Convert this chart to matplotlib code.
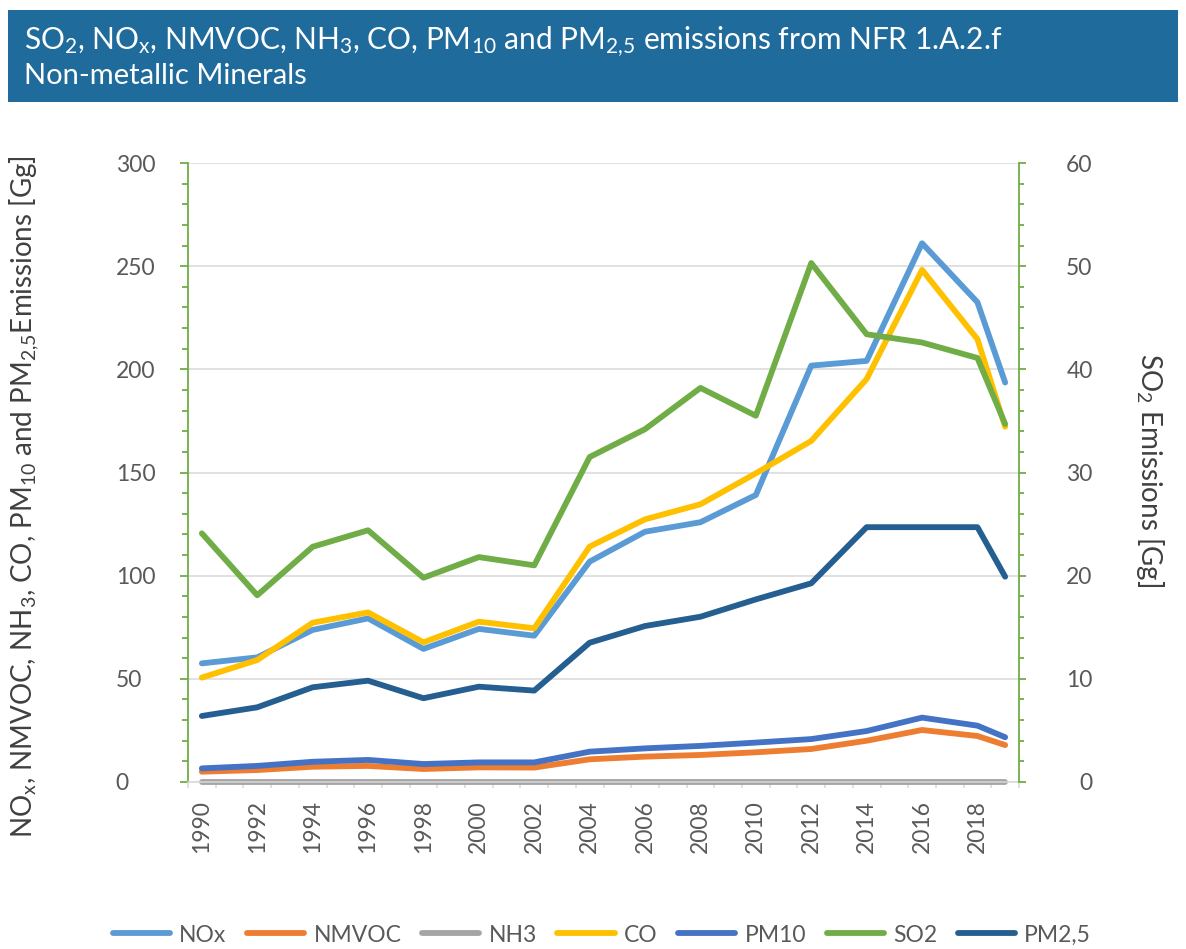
import matplotlib
matplotlib.use("Agg")
import matplotlib.pyplot as plt
from matplotlib.patches import Rectangle
from matplotlib.ticker import MultipleLocator, FixedLocator

FONT = "Lato"
plt.rcParams['font.family'] = [FONT, 'DejaVu Sans']
plt.rcParams['mathtext.fontset'] = 'custom'
plt.rcParams['mathtext.rm'] = FONT
plt.rcParams['mathtext.it'] = FONT + ':italic'
plt.rcParams['mathtext.bf'] = FONT + ':bold'

# ---------------- data ----------------
years = [1990, 1992, 1994, 1996, 1998, 2000, 2002, 2004, 2006, 2008, 2010, 2012, 2014, 2016, 2018, 2019]
nox = [57.5, 60.4, 73.7, 79.3, 64.5, 74.2, 70.9, 106.8, 121.3, 125.9, 139.1, 201.8, 204.1, 261.1, 232.5, 193.6]
nmvoc = [5.0, 5.8, 7.4, 7.8, 6.3, 7.1, 7.0, 11.0, 12.3, 13.1, 14.4, 16.0, 20.0, 25.2, 22.3, 17.9]
nh3 = [0.1, 0.1, 0.1, 0.1, 0.1, 0.1, 0.1, 0.1, 0.1, 0.1, 0.1, 0.1, 0.1, 0.1, 0.1, 0.1]
co = [50.6, 59.1, 77.2, 82.2, 67.7, 77.7, 74.5, 114.1, 127.3, 134.6, 149.6, 165.3, 195.3, 248.2, 214.6, 172.2]
pm10 = [6.6, 7.8, 9.8, 10.7, 8.7, 9.5, 9.5, 14.7, 16.3, 17.5, 19.1, 20.8, 24.7, 31.2, 27.3, 21.7]
so2 = [24.1, 18.1, 22.8, 24.4, 19.8, 21.8, 21.0, 31.5, 34.2, 38.2, 35.5, 50.3, 43.4, 42.6, 41.1, 34.7]
pm25 = [32.0, 36.2, 45.9, 49.1, 40.6, 46.2, 44.3, 67.5, 75.6, 80.1, 88.5, 96.3, 123.5, 123.5, 123.5, 99.5]

first_year = 1990
last_year = 2019
label_years = list(range(1990, 2019, 2))

series_labels = ['NOx', 'NMVOC', 'NH3', 'CO', 'PM10', 'SO2', 'PM2,5']
colors = {'NOx': '#5B9BD5', 'NMVOC': '#ED7D31', 'NH3': '#A5A5A5', 'CO': '#FFC000',
          'PM10': '#4472C4', 'SO2': '#70AD47', 'PM2,5': '#255E91'}

title_line1 = (r'SO$_\mathrm{2}$, NO$_\mathrm{x}$, NMVOC, NH$_\mathrm{3}$, CO, PM$_\mathrm{10}$ '
               r'and PM$_\mathrm{2{,}5}$ emissions from NFR 1.A.2.f')
title_line2 = 'Non-metallic Minerals'
ylabel_left = (r'NO$_\mathrm{x}$, NMVOC, NH$_\mathrm{3}$, CO, PM$_\mathrm{10}$ and '
               r'PM$_\mathrm{2{,}5}$Emissions [Gg]')
ylabel_right = r'SO$_\mathrm{2}$ Emissions [Gg]'

# ---------------- figure ----------------
W, H = 1186, 949
fig = plt.figure(figsize=(W / 100, H / 100), dpi=100)

TXT = '#595959'
GREEN = '#70AD47'
GRID = '#D9D9D9'

# title banner
fig.patches.append(Rectangle((8 / W, 1 - 102 / H), (1178 - 8) / W, (102 - 10) / H,
                             transform=fig.transFigure, facecolor='#1F6B9C', edgecolor='none'))
fig.text(24 / W, 1 - 49 / H, title_line1, color='white', fontsize=21.5, va='baseline', ha='left')
fig.text(24 / W, 1 - 84 / H, title_line2, color='white', fontsize=21, va='baseline', ha='left')

L, R, T, B = 188, 1019, 163, 782
ax = fig.add_axes([L / W, 1 - B / H, (R - L) / W, (B - T) / H])
ax2 = ax.twinx()

xpos = [y - first_year for y in years]
lw = 4.2
kw = dict(lw=lw, solid_capstyle='round', solid_joinstyle='round', clip_on=False)
h_nox, = ax.plot(xpos, nox, color=colors['NOx'], label='NOx', **kw)
h_nmvoc, = ax.plot(xpos, nmvoc, color=colors['NMVOC'], label='NMVOC', **kw)
h_nh3, = ax.plot(xpos, nh3, color=colors['NH3'], label='NH3', **kw)
h_co, = ax.plot(xpos, co, color=colors['CO'], label='CO', **kw)
h_pm10, = ax.plot(xpos, pm10, color=colors['PM10'], label='PM10', **kw)
h_pm25, = ax.plot(xpos, pm25, color=colors['PM2,5'], label='PM2,5', **kw)
h_so2, = ax2.plot(xpos, so2, color=colors['SO2'], label='SO2', **kw)

n_cat = last_year - first_year + 1
ax.set_xlim(-0.5, n_cat - 0.5)
ax.set_ylim(0, 300)
ax2.set_ylim(0, 60)

# grid
ax.yaxis.set_major_locator(FixedLocator([0, 50, 100, 150, 200, 250, 300]))
ax.yaxis.set_minor_locator(MultipleLocator(10))
ax.grid(axis='y', which='major', color=GRID, lw=1.1)
ax.set_axisbelow(True)

ax2.yaxis.set_major_locator(FixedLocator([0, 10, 20, 30, 40, 50, 60]))
ax2.yaxis.set_minor_locator(MultipleLocator(2))

# spines
for a in (ax, ax2):
    a.spines['top'].set_visible(False)
ax.spines['left'].set_color(GREEN)
ax.spines['left'].set_linewidth(1.3)
ax.spines['right'].set_visible(False)
ax.spines['bottom'].set_color(GRID)
ax.spines['bottom'].set_linewidth(1.1)
ax2.spines['left'].set_visible(False)
ax2.spines['bottom'].set_visible(False)
ax2.spines['right'].set_color(GREEN)
ax2.spines['right'].set_linewidth(1.3)

# x ticks: labels at even years (no tick), boundary ticks as minor
ax.set_xticks([y - first_year for y in label_years])
ax.set_xticklabels([str(y) for y in label_years], rotation=90, fontsize=16.5, color=TXT)
ax.xaxis.set_minor_locator(FixedLocator([k - 0.5 for k in range(n_cat + 1)]))
ax.tick_params(axis='x', which='major', length=0, pad=13)
ax.tick_params(axis='x', which='minor', length=4, color=GRID, width=1.1)

# left y ticks (labels left-aligned)
ax.tick_params(axis='y', which='major', length=6, width=1.3, color=GREEN, pad=46,
               labelsize=16.5, labelcolor=TXT)
ax.tick_params(axis='y', which='minor', length=4, width=1.3, color=GREEN)
ax.set_yticks([0, 50, 100, 150, 200, 250, 300])
ax.set_yticklabels(['0', '50', '100', '150', '200', '250', '300'], ha='left')

# right y ticks (labels right-aligned)
ax2.tick_params(axis='y', which='major', length=5, width=1.3, color=GREEN, pad=48,
                labelsize=16.5, labelcolor=TXT)
ax2.tick_params(axis='y', which='minor', length=3.5, width=1.3, color=GREEN)
ax2.set_yticks([0, 10, 20, 30, 40, 50, 60])
ax2.set_yticklabels(['0', '10', '20', '30', '40', '50', '60'], ha='right')

# axis titles
fig.text(24 / W, 1 - 497 / H, ylabel_left, rotation=90, fontsize=20, color='#404040',
         ha='center', va='center')
fig.text(1150 / W, 1 - 470 / H, ylabel_right, rotation=-90, fontsize=20, color='#404040',
         ha='center', va='center')

# legend
handles = [h_nox, h_nmvoc, h_nh3, h_co, h_pm10, h_so2, h_pm25]
leg = fig.legend(handles, series_labels, loc='center', ncol=7, frameon=False,
                 bbox_to_anchor=(602 / W, 1 - 935 / H), fontsize=16.5,
                 handlelength=2.5, handletextpad=0.4, columnspacing=0.9)
for t in leg.get_texts():
    t.set_color(TXT)

fig.savefig('out.png', dpi=100)
